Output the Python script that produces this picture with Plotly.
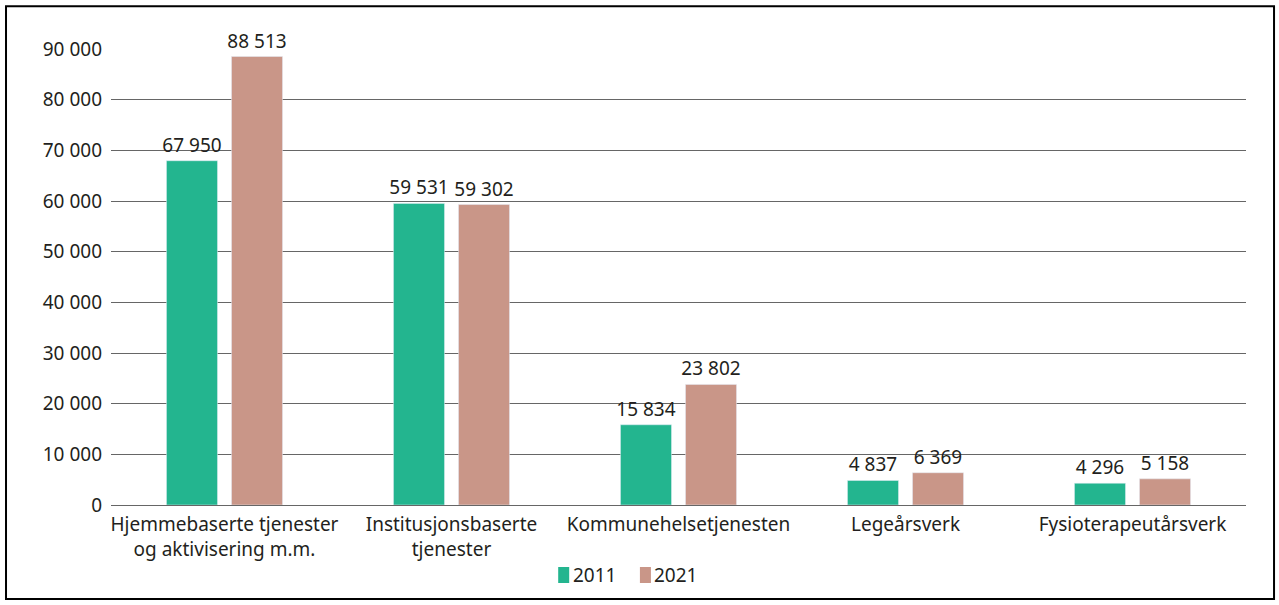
import plotly.graph_objects as go

categories = ["Hjemmebaserte tjenester<br>og aktivisering m.m.", "Institusjonsbaserte<br>tjenester",
              "Kommunehelsetjenesten", "Legeårsverk", "Fysioterapeutårsverk"]
series_names = ["2011", "2021"]
values_2011 = [67950, 59531, 15834, 4837, 4296]
values_2021 = [88513, 59302, 23802, 6369, 5158]
labels_2011 = ["67 950", "59 531", "15 834", "4 837", "4 296"]
labels_2021 = ["88 513", "59 302", "23 802", "6 369", "5 158"]
tick_vals = [0, 10000, 20000, 30000, 40000, 50000, 60000, 70000, 80000, 90000]
tick_text = ["0", "10 000", "20 000", "30 000", "40 000", "50 000", "60 000", "70 000", "80 000", "90 000"]

FONT = "Noto Sans"
TXT = "#231f20"
FS = 19
COLORS = ["#23b58f", "#c99688"]

fig = go.Figure()
for name, vals, labs, col in zip(series_names, [values_2011, values_2021],
                                 [labels_2011, labels_2021], COLORS):
    fig.add_trace(go.Bar(name=name, x=categories, y=vals, text=labs,
                         textposition="outside", marker_color=col, cliponaxis=False,
                         constraintext="none", showlegend=False,
                         textfont=dict(size=FS, color=TXT, family=FONT)))

# manual legend (paper coordinates), placed like the reference
shapes = [dict(type="rect", xref="paper", yref="paper",
               x0=-0.0925, x1=1.0247, y0=-0.206, y1=1.094,
               line=dict(color="black", width=2), fillcolor="rgba(0,0,0,0)")]
annotations = []
legend_sq_x = [0.3940, 0.4660]
for name, col, sx in zip(series_names, COLORS, legend_sq_x):
    shapes.append(dict(type="rect", xref="paper", yref="paper",
                       x0=sx, x1=sx + 0.0097, y0=-0.1711, y1=-0.1360,
                       line=dict(width=0), fillcolor=col))
    annotations.append(dict(xref="paper", yref="paper", x=sx + 0.0110, y=-0.1535,
                            xanchor="left", yanchor="middle", showarrow=False, text=name,
                            font=dict(size=FS, family=FONT, color=TXT)))

fig.update_layout(
    width=1279, height=605,
    margin=dict(l=111, r=33, t=49, b=100, autoexpand=False),
    paper_bgcolor="white", plot_bgcolor="white",
    font=dict(family=FONT, size=FS, color=TXT),
    barmode="group", bargap=0.427, bargroupgap=0.215,
    showlegend=False,
    uniformtext=dict(mode=False),
    shapes=shapes, annotations=annotations,
)
fig.update_yaxes(range=[0, 90000], tickvals=tick_vals, ticktext=tick_text, automargin=False,
                 showgrid=True, gridcolor="#666666", gridwidth=1,
                 zeroline=True, zerolinecolor="#666666", zerolinewidth=1,
                 ticks="", ticklen=0, ticklabelstandoff=8,
                 tickfont=dict(size=FS, family=FONT, color=TXT))
fig.update_xaxes(showgrid=False, showline=False, ticks="", automargin=False,
                 ticklabelstandoff=6,
                 tickfont=dict(size=FS, family=FONT, color=TXT))

fig.write_html("out.html", config={"displayModeBar": False},
               post_script="document.body.style.margin='0';document.body.style.overflow='hidden';")
